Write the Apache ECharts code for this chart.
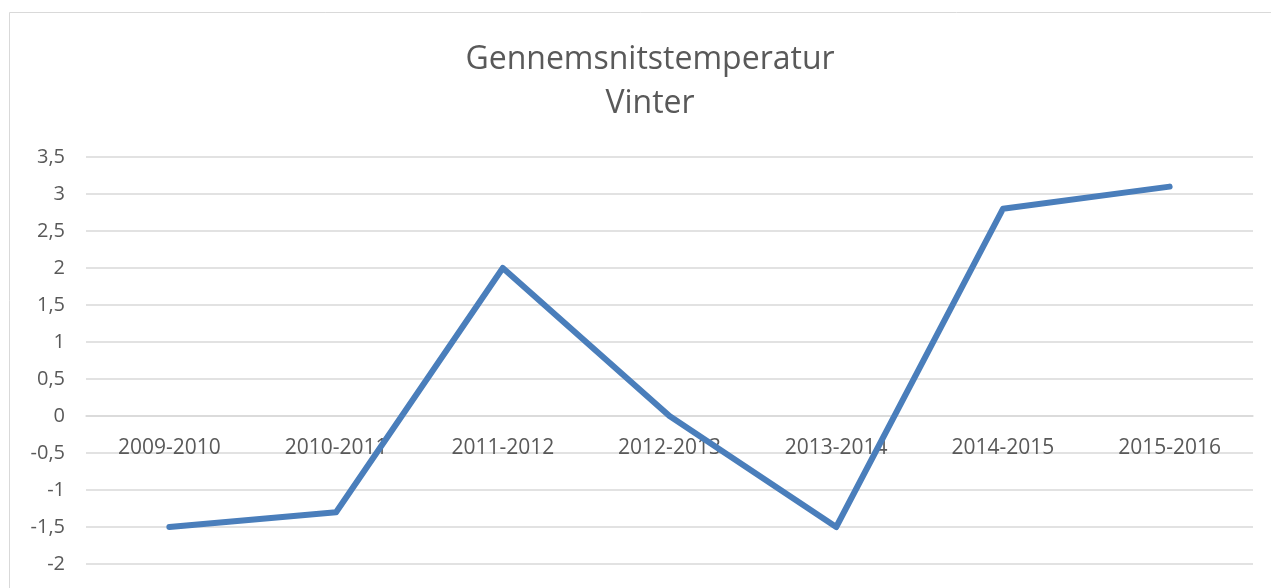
<!DOCTYPE html>
<html>
<head>
<meta charset="utf-8">
<script src="https://cdn.jsdelivr.net/npm/echarts@6/dist/echarts.min.js"></script>
<style>
html,body{margin:0;padding:0;background:#fff;}
#main{width:1271px;height:588px;}
</style>
</head>
<body>
<div id="main"></div>
<script>
var seasons=['2009-2010','2010-2011','2011-2012','2012-2013','2013-2014','2014-2015','2015-2016'];
var avgTemp=[-1.5,-1.3,2,0,-1.5,2.8,3.1];

var chart=echarts.init(document.getElementById('main'));
var option={
	animation:false,
	backgroundColor:'#fff',
	graphic:[{
		type:'rect',
		shape:{x:9.5,y:12.5,width:1275,height:600},
		style:{fill:'none',stroke:'#d9d9d9',lineWidth:1}
	}],
	title:{
		text:'Gennemsnitstemperatur\nVinter',
		left:645,
		top:33,
		textAlign:'center',
		textStyle:{
			fontFamily:'Open Sans',
			fontSize:32,
			fontWeight:'normal',
			color:'#595959',
			lineHeight:44
		}
	},
	grid:{left:86,right:18,top:157,bottom:24,containLabel:false,outerBoundsMode:'none'},
	xAxis:{
		type:'category',
		data:seasons,
		//x-aksen ligger ved 0-linjen
		offset:-148,
		axisLine:{show:true,onZero:false,lineStyle:{color:'#d9d9d9',width:1.5}},
		axisTick:{show:false},
		axisLabel:{
			margin:22,
			fontFamily:'Open Sans',
			fontSize:21,
			color:'#595959'
		}
	},
	yAxis:{
		type:'value',
		min:-2,
		max:3.5,
		interval:0.5,
		axisLine:{show:false},
		axisTick:{show:false},
		splitLine:{lineStyle:{color:'#d9d9d9',width:1.5}},
		axisLabel:{
			margin:21,
			fontFamily:'Open Sans',
			fontSize:20,
			color:'#595959',
			formatter:function(v){return String(v).replace('.',',');}
		}
	},
	series:[{
		type:'line',
		data:avgTemp,
		symbol:'none',
		lineStyle:{color:'#4a7ebb',width:6,cap:'round',join:'round'}
	}]
};
chart.setOption(option);
</script>
</body>
</html>
